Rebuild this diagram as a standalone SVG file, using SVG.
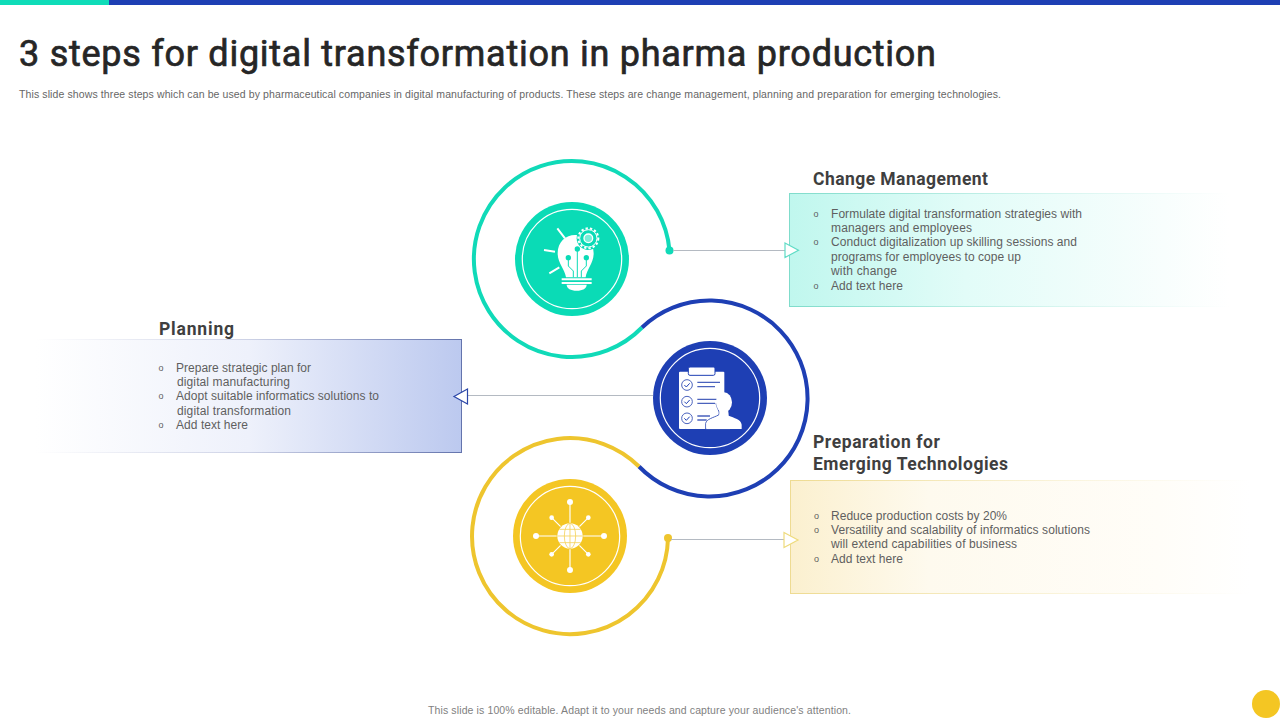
<svg xmlns="http://www.w3.org/2000/svg" width="1280" height="720" viewBox="0 0 1280 720">
<style>
text{font-family:"Liberation Sans",Arial,sans-serif}
.title{font-family:Roboto,"Liberation Sans",sans-serif;font-size:36px;font-weight:400;fill:#262626;stroke:#262626;stroke-width:.7}
.sub{font-size:10.5px;fill:#666}
.foot{font-size:10.5px;fill:#7f7f7f}
.h{font-family:Roboto,"Liberation Sans",sans-serif;font-size:17.5px;font-weight:700;fill:#3f3f3f}
.b{font-size:12px;fill:#5f5f5f}
.o{font-size:9px;fill:#5f5f5f;text-anchor:middle}
.arc{fill:none;stroke-width:4}
.ring{fill:none;stroke:#fff;stroke-width:1.2}
.line{fill:none;stroke:#b4bac2;stroke-width:1}
.w{fill:#fff}
.ws{fill:none;stroke:#fff}
</style>
<defs>
<linearGradient id="gt" x1="0" x2="1" y1="0" y2="0"><stop offset="0" stop-color="#c0f7ee"/><stop offset=".4" stop-color="#e2fcf8"/><stop offset=".85" stop-color="#f8fefd"/><stop offset="1" stop-color="#fff"/></linearGradient>
<linearGradient id="gts" x1="0" x2="1" y1="0" y2="0"><stop offset="0" stop-color="#7fdccb"/><stop offset=".6" stop-color="#d5f5ef"/><stop offset="1" stop-color="#fff"/></linearGradient>
<linearGradient id="gb" x1="0" x2="1" y1="0" y2="0"><stop offset="0" stop-color="#fff"/><stop offset=".5" stop-color="#eef1fb"/><stop offset="1" stop-color="#bcc9ef"/></linearGradient>
<linearGradient id="gbs" x1="0" x2="1" y1="0" y2="0"><stop offset="0" stop-color="#fff"/><stop offset=".5" stop-color="#cdd2e6"/><stop offset="1" stop-color="#6474ad"/></linearGradient>
<linearGradient id="gy" x1="0" x2="1" y1="0" y2="0"><stop offset="0" stop-color="#fbf0cf"/><stop offset=".3" stop-color="#fefaee"/><stop offset=".8" stop-color="#fffdf8"/><stop offset="1" stop-color="#fff"/></linearGradient>
<linearGradient id="gys" x1="0" x2="1" y1="0" y2="0"><stop offset="0" stop-color="#eedb92"/><stop offset=".6" stop-color="#faf4dc"/><stop offset="1" stop-color="#fff"/></linearGradient>
</defs>
<rect width="1280" height="720" fill="#fff"/>
<rect x="0" y="0" width="109" height="5" fill="#0fdcb8"/>
<rect x="109" y="0" width="1171" height="5" fill="#1e3fb4"/>
<text class="title" x="19" y="66" textLength="917" lengthAdjust="spacing">3 steps for digital transformation in pharma production</text>
<text class="sub" x="19" y="98" textLength="982" lengthAdjust="spacing">This slide shows three steps which can be used by pharmaceutical companies in digital manufacturing of products. These steps are change management, planning and preparation for emerging technologies.</text>

<g id="connectors">
<path class="arc" stroke="#10dab8" d="M669.500 250.500A98 98 0 1 0 642 327.500"/>
<path class="arc" stroke="#1e3fb4" d="M642 327.500A98 98 0 1 1 639 466.500"/>
<path class="arc" stroke="#eec52e" d="M639 466.500A98 98 0 1 0 668 538.500"/>
<circle cx="669.500" cy="250.500" r="4" fill="#10dab8"/>
<circle cx="668" cy="538" r="4" fill="#eec52e"/>
<path class="line" d="M673 250.500H785"/>
<path class="line" d="M653 395.500H468"/>
<path class="line" d="M671 539.500H784"/>
</g>

<g id="node-change">
<rect x="789.500" y="193.500" width="440" height="113" fill="url(#gt)" stroke="url(#gts)"/>
<path d="M785 243L798.500 250.200L785 257.500Z" fill="#fff" stroke="#5fdcc6" stroke-width="1.200"/>
<text class="h" x="813" y="185" textLength="175" lengthAdjust="spacing">Change Management</text>
<text class="o" x="816" y="217">o</text>
<text class="b" x="831" y="218" textLength="251" lengthAdjust="spacing">Formulate digital transformation strategies with</text>
<text class="b" x="831" y="232" textLength="141" lengthAdjust="spacing">managers and employees</text>
<text class="o" x="816" y="245">o</text>
<text class="b" x="831" y="246" textLength="246" lengthAdjust="spacing">Conduct digitalization up skilling sessions and</text>
<text class="b" x="831" y="261" textLength="190" lengthAdjust="spacing">programs for employees to cope up</text>
<text class="b" x="831" y="275" textLength="66" lengthAdjust="spacing">with change</text>
<text class="o" x="816" y="289">o</text>
<text class="b" x="831" y="290" textLength="72" lengthAdjust="spacing">Add text here</text>
<circle cx="572" cy="259" r="57" fill="#0adbb6"/>
<circle class="ring" cx="572" cy="259" r="49.700"/>
<g transform="translate(520 210) scale(.3333)">
<path class="w" d="M138 202C135 178 113 160 113 130C113 95 138 75 165 75C195 75 221 95 221 130C221 160 200 178 197 202Z"/>
<circle cx="205" cy="85" r="35" fill="#0adbb6"/>
<circle cx="205" cy="85" r="30" class="ws" stroke-width="6" stroke-dasharray="7 6.200"/>
<circle cx="205" cy="85" r="26" class="ws" stroke-width="3"/>
<circle cx="205" cy="85" r="13" fill="#7beed9" stroke="#fff" stroke-width="4"/>
<g fill="none" stroke="#0adbb6" stroke-width="3"><path d="M172 117V202M145 143V168L160 183V202M199 143V168L184 183V202"/></g>
<g fill="#0adbb6"><circle cx="172" cy="117" r="8"/><circle cx="145" cy="143" r="8"/><circle cx="199" cy="143" r="8"/></g>
<g class="ws" stroke-width="6"><path d="M112 55L135 85M72 120L105 125M88 190L118 172"/><path d="M125 208H215M125 219H215"/></g>
<path class="w" d="M140 224H200C200 235 188 242 170 242C152 242 140 235 140 224Z"/>
</g>
</g>

<g id="node-planning">
<rect x="35.500" y="339.500" width="426" height="113" fill="url(#gb)" stroke="url(#gbs)"/>
<path d="M467.500 389L454 396.500L467.500 404Z" fill="#fff" stroke="#2b46a8" stroke-width="1.200"/>
<text class="h" x="159" y="335" textLength="75" lengthAdjust="spacing">Planning</text>
<text class="o" x="161" y="371">o</text>
<text class="b" x="176" y="372" textLength="135" lengthAdjust="spacing">Prepare strategic plan for</text>
<text class="b" x="177" y="386" textLength="113" lengthAdjust="spacing">digital manufacturing</text>
<text class="o" x="161" y="399">o</text>
<text class="b" x="176" y="400" textLength="203" lengthAdjust="spacing">Adopt suitable informatics solutions to</text>
<text class="b" x="177" y="415" textLength="114" lengthAdjust="spacing">digital transformation</text>
<text class="o" x="161" y="428">o</text>
<text class="b" x="176" y="429" textLength="72" lengthAdjust="spacing">Add text here</text>
<circle cx="710" cy="398" r="57" fill="#1e3fb4"/>
<circle class="ring" cx="710" cy="398" r="49.700"/>
<g transform="translate(660 350) scale(.3333)">
<rect class="w" x="57" y="65" width="136" height="172" rx="3"/>
<rect x="85" y="51" width="80" height="25" rx="5" fill="#fff" stroke="#1e3fb4" stroke-width="3"/>
<g fill="#fff" stroke="#4a62bd" stroke-width="3"><circle cx="81" cy="105" r="16"/><circle cx="81" cy="155" r="16"/><circle cx="81" cy="205" r="16"/></g>
<g fill="none" stroke="#1e3fb4" stroke-width="3"><path d="M73 105L79 111L89 100M73 155L79 161L89 150M73 205L79 211L89 200"/></g>
<g fill="none" stroke="#4a62bd" stroke-width="4"><path d="M112 97H180M112 110H165M112 148H170M112 160H165M112 198H150M112 210H140"/></g>
<path d="M137 237V220C140 207 158 204 176 195C181 185 170 175 168 160L200 150L210 237Z" fill="#fff" stroke="#4a62bd" stroke-width="3"/>
<ellipse class="w" cx="192" cy="157" rx="24" ry="30"/>
<path class="w" d="M139 237V221C142 209 160 206 178 197L180 178H204L206 197C222 204 243 207 245 224V237Z"/>
</g>
</g>

<g id="node-preparation">
<rect x="790.500" y="480.500" width="460" height="113" fill="url(#gy)" stroke="url(#gys)"/>
<path d="M784 532.500L798 540L784 547.500Z" fill="#fff" stroke="#eedb7c" stroke-width="1.200"/>
<text class="h" x="813" y="447.500" textLength="127" lengthAdjust="spacing">Preparation for</text>
<text class="h" x="813" y="470" textLength="195" lengthAdjust="spacing">Emerging Technologies</text>
<text class="o" x="816.500" y="519">o</text>
<text class="b" x="831" y="520" textLength="176" lengthAdjust="spacing">Reduce production costs by 20%</text>
<text class="o" x="816.500" y="533">o</text>
<text class="b" x="831" y="534" textLength="259" lengthAdjust="spacing">Versatility and scalability of informatics solutions</text>
<text class="b" x="831" y="548" textLength="186" lengthAdjust="spacing">will extend capabilities of business</text>
<text class="o" x="816.500" y="562">o</text>
<text class="b" x="831" y="563" textLength="72" lengthAdjust="spacing">Add text here</text>
<circle cx="570" cy="536" r="57" fill="#f4c623"/>
<circle class="ring" cx="570" cy="536" r="49.700"/>
<g transform="translate(520 486) scale(.3333)">
<g class="ws" stroke-width="3.500"><path d="M150 48V252M48 150H252M95 95L205 205M205 95L95 205"/></g>
<g class="w"><circle cx="150" cy="48" r="9"/><circle cx="150" cy="252" r="9"/><circle cx="48" cy="150" r="9"/><circle cx="252" cy="150" r="9"/><circle cx="95" cy="95" r="7"/><circle cx="205" cy="95" r="7"/><circle cx="95" cy="205" r="7"/><circle cx="205" cy="205" r="7"/></g>
<circle cx="150" cy="150" r="40" fill="#f4c623"/>
<circle class="w" cx="150" cy="150" r="38"/>
<g fill="none" stroke="#f4d35e" stroke-width="2.500"><ellipse cx="150" cy="150" rx="17" ry="38"/><path d="M150 112V188M113 150H187M118 130H182M118 170H182"/></g>
</g>
</g>

<text class="foot" x="428" y="714" textLength="423" lengthAdjust="spacing">This slide is 100% editable. Adapt it to your needs and capture your audience's attention.</text>
<circle cx="1266" cy="704" r="14" fill="#f4c623"/>
</svg>
